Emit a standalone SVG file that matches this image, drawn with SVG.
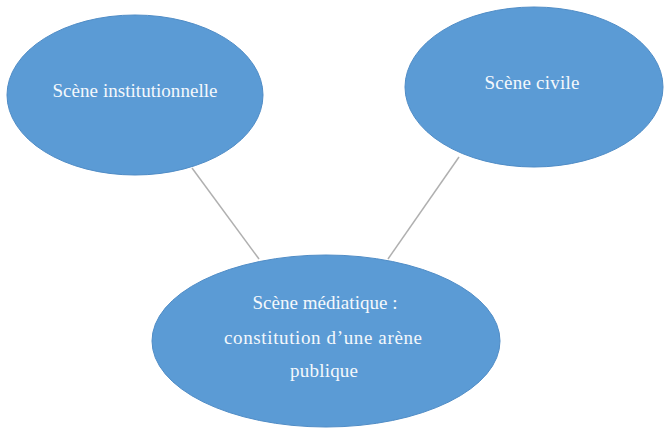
<svg xmlns="http://www.w3.org/2000/svg" width="665" height="430" viewBox="0 0 665 430">
<style>
.node{fill:#5b9bd5;stroke:#4f8cc6;stroke-width:1}
.lbl{font-family:"Liberation Serif","Times New Roman",serif;font-size:19px;fill:#f4f8fc;text-anchor:middle}
.conn{stroke:#b0b0b0;stroke-width:1.5;fill:none}
</style>
<rect width="665" height="430" fill="#ffffff"/>
<g id="connectors">
<line class="conn" x1="192" y1="168" x2="259" y2="259"/>
<line class="conn" x1="459" y1="157" x2="388" y2="259"/>
</g>
<g id="node-institutionnelle">
<ellipse class="node" cx="135" cy="95" rx="128" ry="80"/>
<text class="lbl" x="135" y="97" textLength="165">Scène institutionnelle</text>
</g>
<g id="node-civile">
<ellipse class="node" cx="534" cy="87" rx="129" ry="80"/>
<text class="lbl" x="532" y="89" textLength="95">Scène civile</text>
</g>
<g id="node-mediatique">
<ellipse class="node" cx="326" cy="341" rx="174" ry="86"/>
<text class="lbl" x="325" y="309" textLength="145">Scène médiatique :</text>
<text class="lbl" x="323" y="344" textLength="198">constitution d’une arène</text>
<text class="lbl" x="324" y="377" textLength="68">publique</text>
</g>
</svg>
